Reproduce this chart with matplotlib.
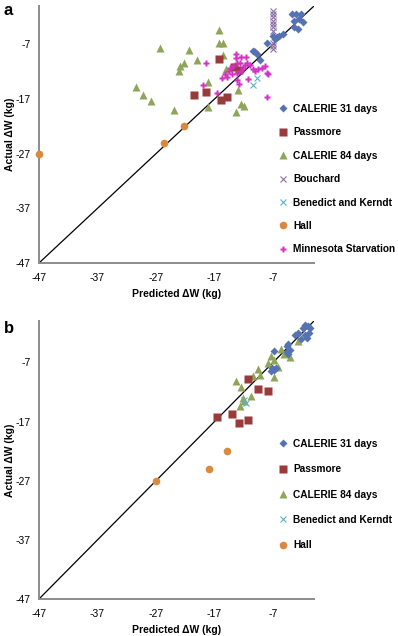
import numpy as np
import matplotlib
matplotlib.use('Agg')
import matplotlib.pyplot as plt

plt.rcParams['font.family'] = ['Liberation Sans', 'DejaVu Sans']
plt.rcParams['axes.unicode_minus'] = False

# ---- panel a data (predicted, actual) ----
a_cal31_x = [-3.8, -3.0, -2.2, -3.5, -2.5, -1.9, -3.4, -2.8, -7.0, -6.4, -6.0, -5.3, -6.7, -8.1, -10.4, -9.7, -9.2, -10.0]
a_cal31_y = [-1.5, -1.5, -1.5, -2.7, -2.4, -2.9, -3.9, -4.2, -5.5, -5.6, -5.4, -5.1, -6.0, -6.7, -8.3, -8.7, -9.8, -8.5]
a_pass_x = [-16.2, -20.5, -18.5, -15.9, -14.9, -12.9, -13.6]
a_pass_y = [-9.7, -16.2, -15.7, -17.1, -16.7, -11.7, -11.2]
a_cal84_x = [-16.2, -16.3, -15.5, -15.6, -26.4, -21.3, -20.0, -22.2, -22.9, -23.1, -30.4, -29.2, -27.9,
             -23.9, -18.1, -18.1, -15.0, -13.0, -12.5, -12.0, -13.4]
a_cal84_y = [-4.4, -6.7, -6.7, -9.0, -7.6, -8.1, -9.8, -10.4, -11.0, -11.8, -14.8, -16.3, -17.3,
             -19.1, -18.4, -13.9, -11.6, -15.4, -18.0, -18.3, -19.4]
a_bouch_x = [-6.95] * 10
a_bouch_y = [-0.9, -1.5, -2.1, -2.7, -3.3, -3.9, -4.6, -6.7, -7.3, -7.9]
a_bk_x = [-9.8, -10.4]
a_bk_y = [-13.1, -14.5]
a_hall_x = [-47.0, -25.7, -22.3]
a_hall_y = [-27.0, -25.0, -21.9]
a_minn_x = [-18.5, -13.4, -13.3, -12.5, -11.6, -13.2, -12.6, -13.8, -14.3, -14.6, -15.2, -15.8, -14.9,
            -14.1, -13.2, -12.4, -12.1, -10.9, -11.5, -10.1, -9.5, -8.9, -8.4, -7.8, -11.2, -13.2,
            -12.9, -18.9, -16.6, -8.0, -10.2, -11.8, -8.1, -10.4]
a_minn_y = [-10.5, -8.7, -9.6, -9.4, -9.3, -10.4, -10.4, -11.0, -11.4, -11.9, -12.5, -13.1, -12.9,
            -12.5, -12.2, -11.9, -11.3, -10.7, -10.4, -11.8, -11.6, -11.3, -11.0, -12.4, -13.3, -13.6,
            -14.3, -14.5, -16.0, -16.6, -8.3, -10.7, -12.3, -11.6]

# ---- panel b data ----
b_cal31_x = [-1.5, -1.1, -1.8, -0.7, -2.8, -3.2, -1.6, -0.8, -2.2, -1.2, -4.4, -4.7, -4.1, -4.7, -4.4,
             -6.8, -7.2, -6.8, -7.3, -6.5]
b_cal31_y = [-0.6, -0.8, -1.1, -1.2, -2.1, -2.3, -2.3, -2.1, -3.0, -2.9, -3.9, -4.2, -4.9, -5.2, -5.5,
             -5.1, -7.9, -8.3, -8.5, -7.9]
b_pass_x = [-16.6, -14.0, -12.8, -11.2, -11.2, -9.5, -7.8]
b_pass_y = [-16.3, -15.8, -17.2, -16.8, -9.8, -11.5, -11.9]
b_cal84_x = [-13.3, -12.5, -12.6, -10.8, -12.2, -10.5, -9.5, -9.2, -7.9, -7.4, -6.1, -6.9, -5.7, -5.2,
             -4.1, -2.8, -6.9, -12.0]
b_cal84_y = [-10.1, -11.2, -14.4, -12.6, -13.0, -9.3, -8.1, -9.1, -7.1, -5.9, -7.8, -9.4, -4.7, -5.6,
             -6.1, -3.3, -6.6, -13.6]
b_bk_x = [-11.9, -11.6]
b_bk_y = [-13.3, -13.9]
b_hall_x = [-27.0, -17.9, -14.9]
b_hall_y = [-27.0, -25.1, -22.0]

ticks = [-47, -37, -27, -17, -7]

c_blue = '#5573B3'
c_red = '#9A3B3B'
c_green = '#8FA55A'
c_purple = '#8C72A8'
c_cyan = '#5FB0C8'
c_orange = '#D98A3E'
c_mag = '#D231C4'

fig = plt.figure(figsize=(3.98, 6.36), dpi=100)
ax1 = fig.add_axes([39/398, 1 - 263/636, 275/398, 257/636])
ax2 = fig.add_axes([39/398, 1 - 599/636, 275/398, 278/636])


def style(ax, xlab_y):
    ax.set_xlim(-47, 0)
    ax.set_ylim(-47, 0)
    ax.plot([-47, 0], [-47, 0], color='black', lw=0.9, zorder=1)
    ax.set_xticks(ticks)
    ax.set_yticks(ticks)
    ax.tick_params(length=0, labelsize=7.5)
    ax.tick_params(axis='x', pad=7)
    ax.tick_params(axis='y', pad=6)
    for s in ['top', 'right']:
        ax.spines[s].set_visible(False)
    for s in ['left', 'bottom']:
        ax.spines[s].set_color('#8c8c8c')
        ax.spines[s].set_linewidth(1.4)
    ax.set_xlabel('Predicted ΔW (kg)', fontsize=7.5, fontweight='bold')
    ax.set_ylabel('Actual ΔW (kg)', fontsize=7.5, fontweight='bold')
    ax.yaxis.set_label_coords(-0.087, 0.5)
    ax.xaxis.set_label_coords(0.5, xlab_y)


style(ax1, -0.10)
ax1.plot(a_cal31_x, a_cal31_y, 'D', ms=3.7, color=c_blue, mec='none', label='CALERIE 31 days', zorder=4)
ax1.plot(a_pass_x, a_pass_y, 's', ms=5.5, color=c_red, mec='none', label='Passmore', zorder=3)
ax1.plot(a_cal84_x, a_cal84_y, '^', ms=5.5, color=c_green, mec='none', label='CALERIE 84 days', zorder=2)
ax1.plot(a_bouch_x, a_bouch_y, 'x', ms=4.3, color=c_purple, mew=0.8, label='Bouchard', zorder=3)
ax1.plot(a_bk_x, a_bk_y, 'x', ms=4.3, color=c_cyan, mew=0.8, label='Benedict and Kerndt', zorder=3)
ax1.plot(a_hall_x, a_hall_y, 'o', ms=5.5, color=c_orange, mec='none', label='Hall', zorder=3, clip_on=False)
ax1.plot(a_minn_x, a_minn_y, 'P', ms=4.8, color=c_mag, mec='none', label='Minnesota Starvation', zorder=3)
ax1.legend(loc='upper left', bbox_to_anchor=(279/398, 1 - 104/636), bbox_transform=fig.transFigure,
           frameon=False, prop={'weight': 'bold', 'size': 7.3}, handlelength=0.8, handletextpad=0.6,
           labelspacing=1.32, borderpad=0, borderaxespad=0)
fig.text(4/398, 1 - 3/636, 'a', fontsize=12, fontweight='bold', va='top')

style(ax2, -0.093)
ax2.plot(b_cal31_x, b_cal31_y, 'D', ms=3.7, color=c_blue, mec='none', label='CALERIE 31 days', zorder=4)
ax2.plot(b_pass_x, b_pass_y, 's', ms=5.5, color=c_red, mec='none', label='Passmore', zorder=3)
ax2.plot(b_cal84_x, b_cal84_y, '^', ms=5.5, color=c_green, mec='none', label='CALERIE 84 days', zorder=2)
ax2.plot(b_bk_x, b_bk_y, 'x', ms=4.3, color=c_cyan, mew=0.8, label='Benedict and Kerndt', zorder=3)
ax2.plot(b_hall_x, b_hall_y, 'o', ms=5.5, color=c_orange, mec='none', label='Hall', zorder=3)
ax2.legend(loc='upper left', bbox_to_anchor=(279/398, 1 - 439/636), bbox_transform=fig.transFigure,
           frameon=False, prop={'weight': 'bold', 'size': 7.3}, handlelength=0.8, handletextpad=0.6,
           labelspacing=1.51, borderpad=0, borderaxespad=0)
fig.text(4/398, 1 - 321/636, 'b', fontsize=12, fontweight='bold', va='top')

fig.savefig('out.png', dpi=100)
